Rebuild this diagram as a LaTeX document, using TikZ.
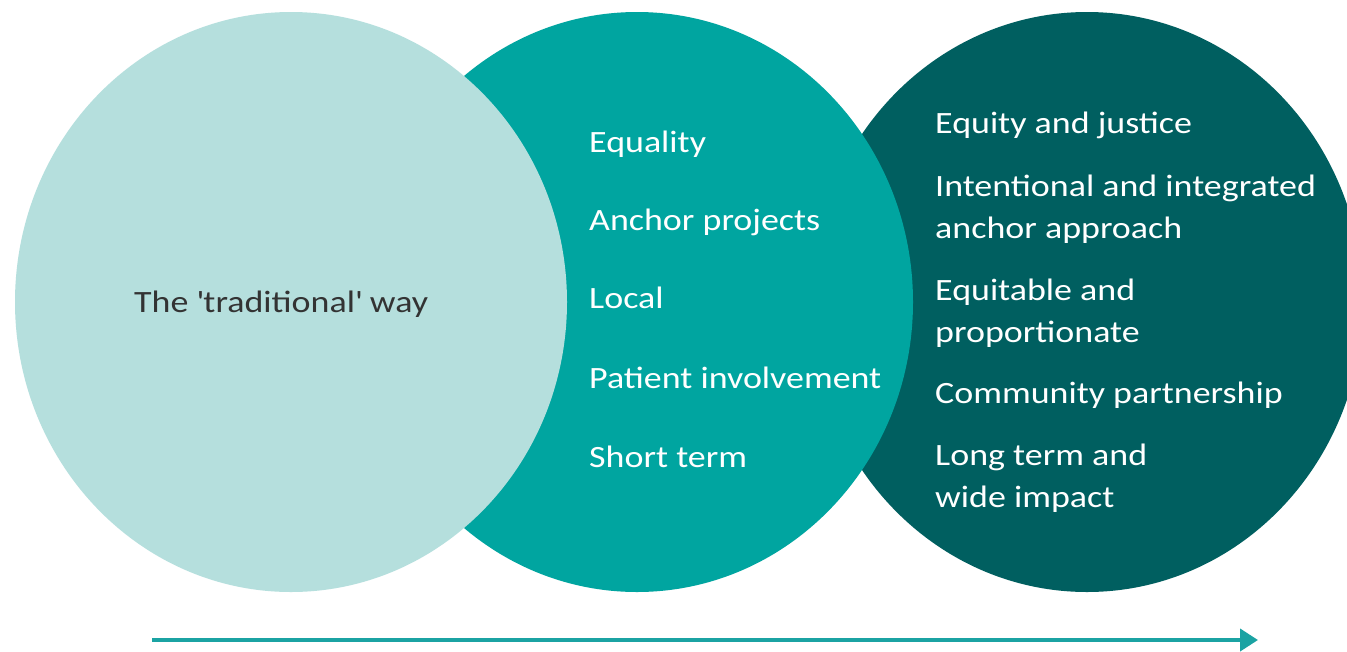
\documentclass[tikz,border=0pt]{standalone}
\usepackage{fontspec}
\setmainfont{Carlito}[FakeStretch=1.16]
\usetikzlibrary{arrows.meta}
\definecolor{lightc}{HTML}{B5DFDD}
\definecolor{midc}{HTML}{00A5A0}
\definecolor{darkc}{HTML}{005F60}
\definecolor{txtc}{HTML}{333333}
\definecolor{arrc}{HTML}{1BA3A3}
\begin{document}
\begin{tikzpicture}[x=1pt,y=-1pt,
  lbl/.style={anchor=base west,inner sep=0pt,font=\fontsize{31}{42}\selectfont,text=white,align=left},
  darklbl/.style={lbl,text=txtc}]
\useasboundingbox (0,0) rectangle (1347,651);
\fill[white] (0,0) rectangle (1347,651);
\begin{scope}
\clip (0,0) rectangle (1347,651);
\fill[darkc] (1087,302) ellipse [x radius=276pt, y radius=290pt];
\fill[midc] (637,302) ellipse [x radius=276pt, y radius=290pt];
\fill[lightc] (291,302) ellipse [x radius=276pt, y radius=290pt];
\end{scope}
\node[darklbl] (trad) at (134,312) {The \textquotesingle traditional\textquotesingle\ way};
\node[lbl] (m1) at (589,152) {Equality};
\node[lbl] (m2) at (589,230) {Anchor projects};
\node[lbl] (m3) at (589,308) {Local};
\node[lbl] (m4) at (589,388) {Patient involvement};
\node[lbl] (m5) at (589,467) {Short term};
\node[lbl] (r1) at (935,133) {Equity and justice};
\node[lbl] (r2) at (935,238) {Intentional and integrated\\anchor approach};
\node[lbl] (r3) at (935,342) {Equitable and\\proportionate};
\node[lbl] (r4) at (935,403) {Community partnership};
\node[lbl] (r5) at (935,507) {Long term and\\wide impact};
\coordinate (a0) at (152,640);
\coordinate (a1) at (1258,640);
\draw[arrc,line width=4pt,-{Triangle[length=18pt,width=22pt]}] (a0) -- (a1);
\end{tikzpicture}
\end{document}
